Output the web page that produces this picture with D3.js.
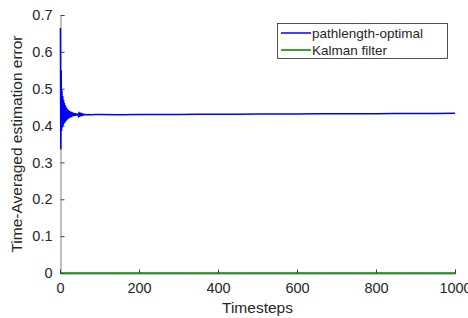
<!DOCTYPE html>
<html>
<head>
<meta charset="utf-8">
<script src="https://cdn.jsdelivr.net/npm/d3@7"></script>
<style>
  body { margin: 0; background: #fff; }
  text { font-family: "Liberation Sans", Arial, sans-serif; fill: #262626; }
</style>
</head>
<body>
<div id="chart"></div>
<script>
// blue series: time steps and time-averaged error
var pathSteps = [1,2,3,4,5,6,7,8,9,10,11,12,13,14,15,16,17,18,19,20,
  21,22,23,24,25,26,27,28,29,30,31,32,33,34,35,36,37,38,39,40,
  41,42,43,44,45,46,47,48,49,50,51,52,53,54,55,56,57,58,59,60,
  65,70,75,80,90,100,150,200,250,300,350,400,450,500,550,600,650,700,750,800,850,900,950,1000];
var pathErr = [0.665,0.335,0.55,0.385,0.495,0.395,0.48,0.40,0.47,0.405,0.462,0.408,0.456,0.411,0.451,0.414,0.447,0.416,0.444,0.418,
  0.442,0.42,0.44,0.421,0.439,0.422,0.438,0.423,0.437,0.424,0.436,0.425,0.435,0.4255,0.4345,0.426,0.434,0.4265,0.4335,0.427,
  0.433,0.4272,0.4325,0.4275,0.432,0.4278,0.4318,0.428,0.4315,0.4282,0.4312,0.4284,0.431,0.4286,0.4308,0.4288,0.4306,0.429,0.4305,0.4291,
  0.4303,0.4293,0.4301,0.4295,0.4299,0.4298,0.4297,0.4298,0.43,0.4303,0.4305,0.4307,0.431,0.4312,0.4314,0.4316,0.4318,0.432,0.4322,0.4324,0.4326,0.4328,0.433,0.4332];

// green series
var kalmanSteps = [1, 250, 500, 750, 1000];
var kalmanErr = [0, 0, 0, 0, 0];

var xTicks = [0, 200, 400, 600, 800, 1000];
var yTicks = [0, 0.1, 0.2, 0.3, 0.4, 0.5, 0.6, 0.7];
var seriesNames = ["pathlength-optimal", "Kalman filter"];
var seriesColors = ["#0000ff", "#008000"];

function init(){
    var w = 468, h = 318;
    var left = 60, right = 455, top = 15, bottom = 273;

    var svg = d3.select("#chart").append("svg")
        .attr("width", w)
        .attr("height", h);

    var x = d3.scaleLinear().domain([0, 1000]).range([left, right]);
    var y = d3.scaleLinear().domain([0, 0.7]).range([bottom, top]);

    // y axis
    var yAxis = svg.append("g")
        .attr("transform", "translate(" + (left + 0.5) + ",0)")
        .call(d3.axisLeft(y).tickValues(yTicks).tickSize(-4).tickPadding(8)
              .tickFormat(function(d){ return d === 0 ? "0" : d3.format(".1f")(d); }));
    yAxis.select(".domain").attr("stroke", "#808080");
    yAxis.selectAll(".tick line").attr("stroke", "#404040");
    yAxis.selectAll("text").style("font-size", "14.5px").attr("fill", "#262626");

    // x axis
    var xAxis = svg.append("g")
        .attr("transform", "translate(0," + (bottom + 0.5) + ")")
        .call(d3.axisBottom(x).tickValues(xTicks).tickSize(-4).tickPadding(9)
              .tickFormat(d3.format("d")));
    xAxis.select(".domain").attr("stroke", "#808080");
    xAxis.selectAll(".tick line").attr("stroke", "#404040");
    xAxis.selectAll("text").style("font-size", "14.5px").attr("fill", "#262626");

    var line = d3.line()
        .x(function(d){ return x(d[0]); })
        .y(function(d){ return y(d[1]); });

    svg.append("path")
        .datum(kalmanSteps.map(function(s, i){ return [s, kalmanErr[i]]; }))
        .attr("fill", "none")
        .attr("stroke", seriesColors[1])
        .attr("stroke-width", 1.5)
        .attr("d", line);

    svg.append("path")
        .datum(pathSteps.map(function(s, i){ return [s, pathErr[i]]; }))
        .attr("fill", "none")
        .attr("stroke", seriesColors[0])
        .attr("stroke-width", 1.5)
        .attr("d", line);

    // axis labels
    svg.append("text")
        .attr("x", (left + right) / 2)
        .attr("y", 313)
        .attr("text-anchor", "middle")
        .style("font-size", "15.5px")
        .text("Timesteps");

    svg.append("text")
        .attr("transform", "translate(22," + ((top + bottom) / 2) + ") rotate(-90)")
        .attr("text-anchor", "middle")
        .style("font-size", "15.5px")
        .text("Time-Averaged estimation error");

    // legend
    var lg = svg.append("g");
    lg.append("rect")
        .attr("x", 277.5).attr("y", 23.5)
        .attr("width", 170).attr("height", 35)
        .attr("fill", "#fff")
        .attr("stroke", "#262626")
        .attr("stroke-width", 0.8);
    seriesNames.forEach(function(name, i){
        var ly = 33 + i * 17;
        lg.append("line")
            .attr("x1", 281).attr("x2", 311)
            .attr("y1", ly).attr("y2", ly)
            .attr("stroke", seriesColors[i])
            .attr("stroke-width", 1.5);
        lg.append("text")
            .attr("x", 312).attr("y", ly)
            .attr("dy", "0.35em")
            .style("font-size", "13.5px")
            .text(name);
    });
}

window.onload = init;
</script>
</body>
</html>
